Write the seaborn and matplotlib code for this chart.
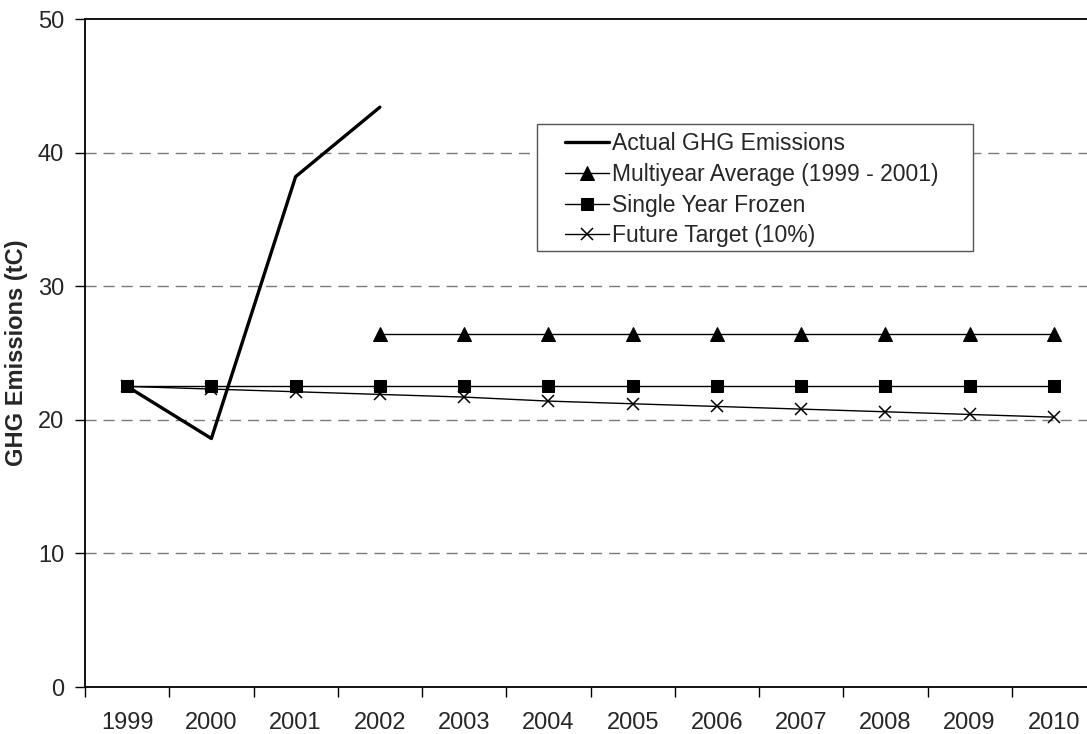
import numpy as np
import pandas as pd
import matplotlib
matplotlib.use('Agg')
import matplotlib.pyplot as plt
import seaborn as sns
from matplotlib.patches import Rectangle

# data
years = ['1999', '2000', '2001', '2002', '2003', '2004', '2005', '2006', '2007', '2008', '2009', '2010']
actual = [22.5, 18.6, 38.2, 43.4, np.nan, np.nan, np.nan, np.nan, np.nan, np.nan, np.nan, np.nan]
multiyear_avg = [np.nan, np.nan, np.nan, 26.4, 26.4, 26.4, 26.4, 26.4, 26.4, 26.4, 26.4, 26.4]
single_year = [22.5, 22.5, 22.5, 22.5, 22.5, 22.5, 22.5, 22.5, 22.5, 22.5, 22.5, 22.5]
future_target = [22.5, 22.3, 22.1, 21.9, 21.7, 21.4, 21.2, 21.0, 20.8, 20.6, 20.4, 20.2]

sns.set_style('white')
plt.rcParams['font.family'] = ['Liberation Sans', 'DejaVu Sans']

df = pd.DataFrame({
    'pos': range(len(years)),
    'Actual GHG Emissions': actual,
    'Multiyear Average (1999 - 2001)': multiyear_avg,
    'Single Year Frozen': single_year,
    'Future Target (10%)': future_target,
})

W, H = 1087, 734
fig = plt.figure(figsize=(W / 100, H / 100), dpi=100)
ax = fig.add_axes([85 / W, 47 / H, 1011 / W, 668 / H])

# dashed grid behind the lines
for yv in [10, 20, 30, 40]:
    ax.axhline(yv, color='#7a7a7a', lw=1, ls=(0, (8, 5)), zorder=0)

sns.lineplot(data=df, x='pos', y='Actual GHG Emissions', ax=ax, color='black', lw=2.4,
             label='Actual GHG Emissions', zorder=3)
sns.lineplot(data=df, x='pos', y='Multiyear Average (1999 - 2001)', ax=ax, color='black', lw=1,
             marker='^', markersize=9.5, markeredgecolor='black', label='Multiyear Average (1999 - 2001)',
             zorder=4)
sns.lineplot(data=df, x='pos', y='Single Year Frozen', ax=ax, color='black', lw=1,
             marker='s', markersize=8.5, markeredgecolor='black', label='Single Year Frozen', zorder=5)
sns.lineplot(data=df, x='pos', y='Future Target (10%)', ax=ax, color='black', lw=1,
             marker='x', markersize=9, markeredgewidth=1.1, markeredgecolor='black',
             label='Future Target (10%)', zorder=4)

ax.set_xlim(-0.5, len(years) - 0.5)
ax.set_ylim(0, 50)
ax.set_yticks([0, 10, 20, 30, 40, 50])

# ticks between categories, labels in the middle
ax.set_xticks(np.arange(-0.5, len(years), 1.0))
ax.set_xticklabels([])
ax.set_xticks(np.arange(len(years)), minor=True)
ax.set_xticklabels(years, minor=True)
ax.tick_params(axis='x', which='major', direction='out', length=7, width=1, color='black', bottom=True)
ax.tick_params(axis='x', which='minor', length=0, labelsize=17, pad=18, bottom=True)
ax.tick_params(axis='y', direction='out', length=7, width=1, color='black', labelsize=17, pad=8, left=True)

ax.set_xlabel('')
ax.set_ylabel('GHG Emissions (tC)', fontsize=17, fontweight='bold', labelpad=7)

for side in ['left', 'bottom', 'top', 'right']:
    ax.spines[side].set_color('black')
    ax.spines[side].set_linewidth(1.3)

# legend without its own frame, box drawn separately (Excel-like padding)
box = Rectangle((537 / W, 1 - 251 / H), (973 - 537) / W, (251 - 124) / H,
                transform=fig.transFigure, facecolor='white', edgecolor='#555555',
                lw=1, zorder=6, clip_on=False)
ax.add_patch(box)
leg = ax.legend(loc='upper left', bbox_to_anchor=(565 / W, 1 - 132 / H), bbox_transform=fig.transFigure,
                borderaxespad=0, borderpad=0, fontsize=16.5, frameon=False,
                labelspacing=0.34, handlelength=1.9, handletextpad=0.17)
leg.set_zorder(10)

fig.savefig('out.png', dpi=100)
